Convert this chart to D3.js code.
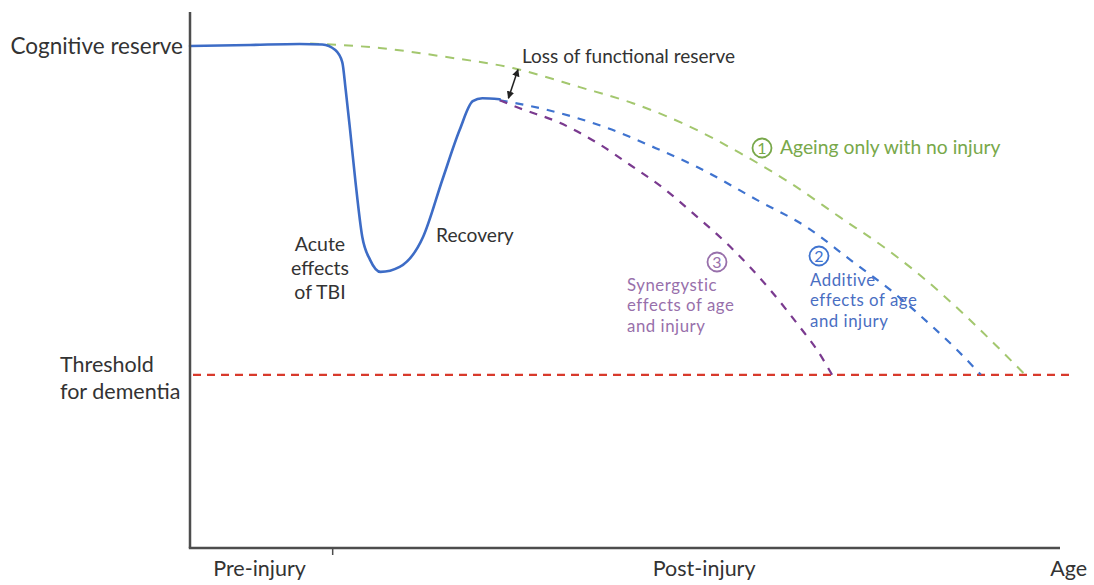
<!DOCTYPE html>
<html>
<head>
<meta charset="utf-8">
<script src="https://cdn.jsdelivr.net/npm/d3@7"></script>
<style>
  html, body { margin: 0; padding: 0; background: #ffffff; }
  svg { display: block; }
  text { font-family: Lato, "Open Sans", sans-serif; }
</style>
</head>
<body>
<svg id="chart" width="1094" height="585"></svg>
<script>
// ---------------- data (x: relative age 0-100, y: cognitive function 0-100) ----------------
const reserveLevel = 100;
const thresholdLevel = 34.5;
const injuryAge = 16.4;

// Solid blue: course with TBI (acute drop + recovery)
const tbiX = [0, 6.9, 12.6, 15.2, 16.7, 17.5, 17.9, 18.4, 19.0, 19.8, 20.7, 21.9, 24.1, 26.8, 29.0, 31.0, 32.5, 33.6, 35.6];
const tbiY = [100, 100.2, 100.4, 100.3, 99.2, 96.8, 91.2, 83.3, 73.3, 62.0, 57.4, 55.0, 56.0, 62.0, 73.3, 83.3, 89.0, 89.6, 89.4];

// (1) Ageing only with no injury (green dashed)
const ageingX = [13.8, 21.8, 29.5, 37.1, 44.8, 50.9, 57.5, 63.2, 69.0, 74.7, 79.7, 83.6, 89.3, 92.5, 96.0];
const ageingY = [100.5, 99.6, 97.8, 95.6, 91.8, 88.6, 83.9, 78.7, 72.7, 65.9, 60.0, 54.8, 46.0, 40.6, 34.5];

// (2) Additive effects of age and injury (blue dashed)
const additiveX = [35.6, 41.0, 47.9, 54.0, 58.3, 65.2, 70.9, 75.9, 80.5, 85.4, 88.2, 90.9];
const additiveY = [89.2, 87.3, 83.7, 79.3, 75.9, 69.3, 63.9, 57.4, 51.4, 44.0, 39.4, 34.5];

// (3) Synergistic effects of age and injury (purple dashed)
const synergyX = [35.6, 37.9, 42.5, 46.8, 50.6, 54.4, 57.8, 62.1, 66.7, 70.1, 72.1, 73.8];
const synergyY = [89.2, 87.6, 84.7, 80.7, 76.3, 71.7, 66.7, 60.0, 51.4, 44.0, 39.4, 34.5];

// x-axis period labels and their positions (age units)
const xLabels = ["Pre-injury", "Post-injury", "Age"];
const xLabelPos = [8.0, 59.1, 101.0];

// ---------------- layout ----------------
const svg = d3.select("#chart");
const x = d3.scaleLinear().domain([0, 100]).range([190, 1060]);
const y = d3.scaleLinear().domain([0, 100]).range([548, 46]);
const axisTop = 12;

const C = {
  axis: "#4d4d4d",
  text: "#333333",
  tbi: "#3d6cc6",
  ageing: "#a3c76e",
  additive: "#3f73cf",
  synergy: "#7a3a8f",
  threshold: "#d83a2c",
  ageingText: "#78a84a",
  additiveText: "#4a6ec2",
  synergyText: "#9870ab"
};

const zip = (xs, ys) => xs.map((v, i) => [v, ys[i]]);
const line = d3.line().x(d => x(d[0])).y(d => y(d[1])).curve(d3.curveMonotoneX);

// threshold
svg.append("line")
  .attr("x1", x(0) + 3).attr("x2", x(101.5))
  .attr("y1", y(thresholdLevel)).attr("y2", y(thresholdLevel))
  .attr("stroke", C.threshold).attr("stroke-width", 2.2)
  .attr("stroke-dasharray", "8,6");

// dashed scenario curves
svg.append("path").attr("d", line(zip(ageingX, ageingY)))
  .attr("fill", "none").attr("stroke", C.ageing).attr("stroke-width", 2)
  .attr("stroke-dasharray", "9,8");
svg.append("path").attr("d", line(zip(additiveX, additiveY)))
  .attr("fill", "none").attr("stroke", C.additive).attr("stroke-width", 2.2)
  .attr("stroke-dasharray", "8,8");
svg.append("path").attr("d", line(zip(synergyX, synergyY)))
  .attr("fill", "none").attr("stroke", C.synergy).attr("stroke-width", 2.2)
  .attr("stroke-dasharray", "8,8");

// solid TBI curve
svg.append("path").attr("d", line(zip(tbiX, tbiY)))
  .attr("fill", "none").attr("stroke", C.tbi).attr("stroke-width", 2.6)
  .attr("stroke-linejoin", "round").attr("stroke-linecap", "round");

// axes
svg.append("line").attr("x1", x(0)).attr("x2", x(0))
  .attr("y1", axisTop).attr("y2", y(0))
  .attr("stroke", C.axis).attr("stroke-width", 2.5);
svg.append("line").attr("x1", x(0) - 1.2).attr("x2", x(100))
  .attr("y1", y(0)).attr("y2", y(0))
  .attr("stroke", C.axis).attr("stroke-width", 2.5);
svg.append("line").attr("x1", x(injuryAge)).attr("x2", x(injuryAge))
  .attr("y1", y(0)).attr("y2", y(0) + 7)
  .attr("stroke", C.axis).attr("stroke-width", 1.5);

// x labels
svg.selectAll("text.xl").data(xLabels).enter().append("text")
  .attr("class", "xl")
  .attr("x", (d, i) => x(xLabelPos[i]))
  .attr("y", 576)
  .attr("text-anchor", "middle")
  .attr("font-size", 21.5).attr("fill", C.text)
  .text(d => d);

// y labels
svg.append("text").attr("x", 183).attr("y", y(reserveLevel) + 7.5)
  .attr("text-anchor", "end").attr("font-size", 22.5).attr("fill", C.text)
  .text("Cognitive reserve");
svg.append("text").attr("x", 60).attr("y", y(thresholdLevel) - 3)
  .attr("font-size", 21.5).attr("fill", C.text).text("Threshold");
svg.append("text").attr("x", 60).attr("y", y(thresholdLevel) + 24)
  .attr("font-size", 21.5).attr("fill", C.text).text("for dementia");

// annotations
const ann = svg.append("g").attr("fill", C.text).attr("font-size", 19.5);
ann.append("text").attr("x", 320).attr("y", 251).attr("text-anchor", "middle").text("Acute");
ann.append("text").attr("x", 320).attr("y", 275).attr("text-anchor", "middle").text("effects");
ann.append("text").attr("x", 320).attr("y", 299).attr("text-anchor", "middle").text("of TBI");
ann.append("text").attr("x", 436).attr("y", 242).attr("font-size", 19.2).text("Recovery");
ann.append("text").attr("x", 522).attr("y", 63).attr("font-size", 19).text("Loss of functional reserve");

// double-headed arrow for loss of functional reserve
const defs = svg.append("defs");
defs.append("marker").attr("id", "ah").attr("viewBox", "0 0 10 10")
  .attr("refX", 9).attr("refY", 5).attr("markerWidth", 5).attr("markerHeight", 5)
  .attr("orient", "auto-start-reverse")
  .append("path").attr("d", "M0,0 L10,5 L0,10 z").attr("fill", "#222");
const arrowFrom = [37.7, 95.3], arrowTo = [36.6, 89.6];
svg.append("line")
  .attr("x1", x(arrowFrom[0])).attr("y1", y(arrowFrom[1]))
  .attr("x2", x(arrowTo[0])).attr("y2", y(arrowTo[1]))
  .attr("stroke", "#222").attr("stroke-width", 1.5)
  .attr("marker-start", "url(#ah)").attr("marker-end", "url(#ah)");

// numbered circles + scenario labels
function badge(cx, cy, num, color) {
  svg.append("circle").attr("cx", cx).attr("cy", cy).attr("r", 9.5)
    .attr("fill", "none").attr("stroke", color).attr("stroke-width", 1.8);
  svg.append("text").attr("x", cx).attr("y", cy + 6).attr("text-anchor", "middle")
    .attr("font-size", 16).attr("fill", color).text(num);
}
badge(762, 148, "1", C.ageingText);
svg.append("text").attr("x", 780).attr("y", 154).attr("font-size", 19.3)
  .attr("fill", C.ageingText).text("Ageing only with no injury");

badge(819, 256, "2", C.additive);
const addLines = ["Additive", "effects of age", "and injury"];
addLines.forEach((t, i) => svg.append("text").attr("x", 810).attr("y", 286 + i * 20.3)
  .attr("font-size", 16.8).attr("letter-spacing", 0.55)
  .attr("fill", C.additiveText).text(t));

badge(717, 262, "3", C.synergyText);
const synLines = ["Synergystic", "effects of age", "and injury"];
synLines.forEach((t, i) => svg.append("text").attr("x", 627).attr("y", 291 + i * 20.3)
  .attr("font-size", 16.8).attr("letter-spacing", 0.55)
  .attr("fill", C.synergyText).text(t));
</script>
</body>
</html>
